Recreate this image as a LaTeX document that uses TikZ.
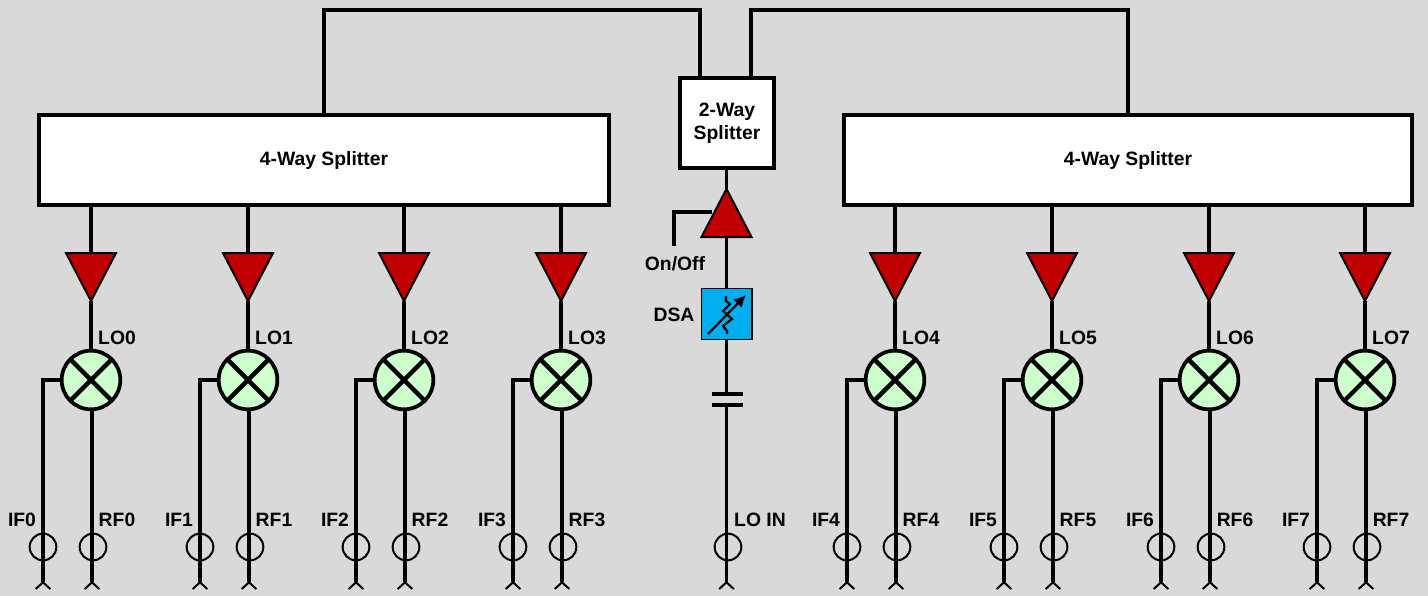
\documentclass[tikz,border=0pt]{standalone}
\usepackage{fontspec}
\setmainfont{Liberation Sans}
\usetikzlibrary{arrows.meta,shapes.geometric}
\definecolor{bggray}{HTML}{D9D9D9}
\definecolor{ampred}{HTML}{C00000}
\definecolor{mixgreen}{HTML}{CCFFCC}
\definecolor{dsablue}{HTML}{00AEEF}
\tikzset{
	wire/.style={line width=2.9pt},
	feed/.style={line width=2.6pt, -{Straight Barb[reversed, length=5pt, width=11pt, line width=1.5pt]}},
	splitbox/.style={draw, fill=white, line width=3pt, inner sep=0pt, outer sep=0pt, align=center},
	amp/.style={draw, fill=ampred, line width=1.5pt, isosceles triangle, isosceles triangle apex angle=55, isosceles triangle stretches, inner sep=0pt, outer sep=0pt, minimum width=37.5pt, minimum height=36pt},
	mixer/.style={draw, fill=mixgreen, circle, line width=2.8pt, minimum size=44pt, inner sep=0pt, outer sep=0pt},
	port/.style={draw, circle, line width=1.5pt, minimum size=20pt, inner sep=0pt, outer sep=0pt},
	lbl/.style={font=\fontsize{14.5}{17}\selectfont\bfseries, inner sep=0pt},
	tag/.style={lbl, text height=10pt, text depth=0pt}
}
\begin{document}
\begin{tikzpicture}[x=0.75pt, y=-0.75pt]
	\path[use as bounding box, fill=bggray] (0,0) rectangle (1428,596);
	% splitters
	\node[splitbox, minimum width=427.5pt, minimum height=67pt, lbl] (splitL) at (324,160) {4-Way Splitter};
	\node[splitbox, minimum width=426pt, minimum height=67pt, lbl] (splitR) at (1128,160) {4-Way Splitter};
	\node[splitbox, minimum width=71pt, minimum height=67pt, lbl] (split2) at (727,123) {2-Way\\Splitter};
	\coordinate (cornerL) at (700,10);
	\coordinate (cornerR) at (751,10);
	\draw[wire] (splitL.north) |- (cornerL) -- (split2.north -| cornerL);
	\draw[wire] (splitR.north) |- (cornerR) -- (split2.north -| cornerR);
	% mixer channels
	\foreach \x/\n in {91/0, 248/1, 404/2, 561/3, 895/4, 1052/5, 1209/6, 1365/7} {
		\pgfmathsetmacro{\xif}{\x-48}
		\pgfmathsetmacro{\xlo}{\x+26}
		\pgfmathsetmacro{\xifl}{\x-69}
		\node[amp, shape border rotate=-90, anchor=apex] (amp\n) at (\x,301) {};
		\node[mixer] (mix\n) at (\x,380) {};
		\node[port] (ifport\n) at (\xif,547) {};
		\node[port] (rfport\n) at (\x+2,547) {};
		\coordinate (ifend\n) at (\xif,590);
		\coordinate (rfend\n) at (\x+1,590);
		\coordinate (tap\n) at (\x,205);
		\draw[wire] (tap\n) -- (amp\n.lower side);
		\draw[wire] (amp\n.apex) -- (mix\n.north);
		\draw[line width=3.2pt] (mix\n.north west) -- (mix\n.south east);
		\draw[line width=3.2pt] (mix\n.north east) -- (mix\n.south west);
		\draw[feed] (mix\n.west) -| (ifend\n);
		\draw[feed] (mix\n.south -| rfend\n) -- (rfend\n);
		\node[tag] (lolabel\n) at (\xlo,338) {LO\n};
		\node[tag] (iflabel\n) at (\xifl,520) {IF\n};
		\node[tag] (rflabel\n) at (\xlo,520) {RF\n};
	}
	% LO input chain
	\node[amp, shape border rotate=90, anchor=apex] (ampC) at (726.5,189) {};
	\node[draw, fill=dsablue, line width=1pt, minimum size=38pt, inner sep=0pt, outer sep=0pt] (dsa) at (726.5,314) {};
	\coordinate (capT) at (726.5,394);
	\coordinate (capB) at (726.5,405);
	\node[port] (loport) at (728,547) {};
	\coordinate (loend) at (726.5,590);
	\coordinate (ctrl) at (674,246);
	\coordinate (ctrlin) at (712,212);
	\draw[wire] (ampC.apex) -- (split2.south -| ampC.apex);
	\draw[wire] (ampC.lower side) -- (dsa.north);
	\draw[wire] (dsa.south) -- (capT);
	\draw[wire] (capT -| 712,0) -- (capT -| 743,0);
	\draw[wire] (capB -| 712,0) -- (capB -| 743,0);
	\draw[feed] (capB) -- (loend);
	\draw[wire] (ctrlin) -| (ctrl);
	\draw[line width=1.6pt] (726,296) -- (726,301) -- (730,304) -- (723,311) -- (732,319) -- (723,326) -- (727,331) -- (727,334);
	\draw[line width=1.6pt, -{Latex[length=9pt, width=9pt]}] (708,334) -- (746,295);
	\node[lbl] (onoff) at (675,264) {On/Off};
	\node[lbl] (dsalabel) at (674,315) {DSA};
	\node[tag] (loin) at (760,520) {LO IN};
\end{tikzpicture}
\end{document}
